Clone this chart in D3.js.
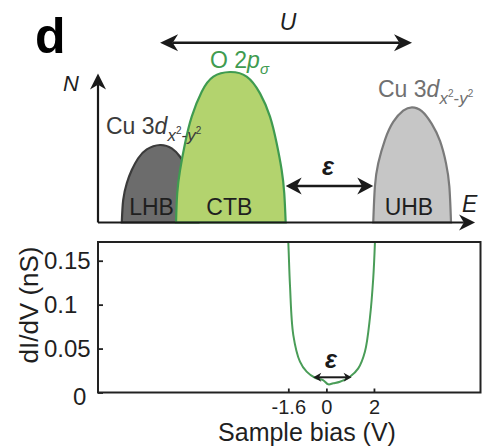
<!DOCTYPE html>
<html>
<head>
<meta charset="utf-8">
<script src="https://cdn.jsdelivr.net/npm/d3@7"></script>
<style>
  body { margin: 0; background: #fff; }
  text { font-family: "Liberation Sans", Arial, sans-serif; }
</style>
</head>
<body>
<div id="d3"></div>
<script>
// band outlines in the sketch: energy (V) and density of states (CTB peak = 1)
const lhbE = [-8.60, -8.54, -8.39, -8.18, -7.91, -7.55, -6.99, -6.50, -6.15, -5.80, -5.59, -5.45, -5.38];
const lhbN = [0, 0.150, 0.261, 0.349, 0.427, 0.486, 0.515, 0.493, 0.437, 0.349, 0.261, 0.150, 0];
const ctbE = [-6.32, -6.27, -6.15, -5.94, -5.66, -5.24, -4.75, -4.05, -3.35, -2.79, -2.37, -2.09, -1.88, -1.77, -1.71];
const ctbN = [0, 0.194, 0.349, 0.526, 0.703, 0.869, 0.969, 1.0, 0.969, 0.858, 0.703, 0.526, 0.349, 0.194, 0];
const uhbE = [1.97, 2.04, 2.18, 2.46, 2.81, 3.23, 3.60, 4.01, 4.43, 4.78, 5.03, 5.17, 5.24];
const uhbN = [0, 0.238, 0.393, 0.548, 0.668, 0.743, 0.765, 0.740, 0.655, 0.540, 0.393, 0.238, 0];
const bandNames = ["LHB", "CTB", "UHB"];
const bandLabelE = [-7.35, -4.08, 3.47];

// measured dI/dV spectrum
const biasV = [-1.66, -1.60, -1.53, -1.39, -1.11, -0.83, -0.48, -0.14, 0.08, 0.29, 0.57, 0.99, 1.34, 1.62, 1.83, 1.97, 2.04, 2.07];
const didv = [0.20, 0.171, 0.122, 0.0654, 0.0351, 0.0237, 0.0168, 0.0142, 0.0093, 0.0105, 0.0123, 0.0180, 0.0275, 0.0464, 0.0848, 0.130, 0.170, 0.20];
const gapV = [-0.55, 1.06];
const gapLevel = 0.0173;

const xTicks = [-1.6, 0, 2];
const yTicks = [0, 0.05, 0.1, 0.15];

const width = 482, height = 448;

const svg = d3
  .select("#d3")
  .append("svg")
  .attr("width", width)
  .attr("height", height);

// one energy axis shared by both panels
const x = d3.scaleLinear().domain([-9.6, 6.5]).range([98, 481]);
const yN = d3.scaleLinear().domain([0, 1]).range([222.5, 72]);
const y = d3.scaleLinear().domain([0, 0.1713]).range([392.5, 242]);

// double/single headed arrow with notched heads, tips at (x1,y1) (x2,y2)
function arrow(g, x1, y1, x2, y2, len, half, sw, both) {
  const a = Math.atan2(y2 - y1, x2 - x1);
  const notch = len * 0.7;
  const c = Math.cos(a), s = Math.sin(a);
  g.append("line")
    .attr("x1", both ? x1 + c * notch : x1)
    .attr("y1", both ? y1 + s * notch : y1)
    .attr("x2", x2 - c * notch)
    .attr("y2", y2 - s * notch)
    .attr("stroke", "#1a1a1a")
    .attr("stroke-width", sw);
  const head = `M0,0 L${-len},${-half} L${-notch},0 L${-len},${half} Z`;
  g.append("path")
    .attr("d", head)
    .attr("fill", "#1a1a1a")
    .attr("transform", `translate(${x2},${y2}) rotate(${(a * 180) / Math.PI})`);
  if (both)
    g.append("path")
      .attr("d", head)
      .attr("fill", "#1a1a1a")
      .attr("transform", `translate(${x1},${y1}) rotate(${(a * 180) / Math.PI + 180})`);
}

// ---------------- top panel: band sketch ----------------
const gTop = svg.append("g");

const dome = d3
  .line()
  .x((d) => x(d[0]))
  .y((d) => yN(d[1]))
  .curve(d3.curveNatural);

const bands = [
  { name: "LHB", pts: d3.zip(lhbE, lhbN), fill: "#6c6c6c", stroke: "#3b3b3b" },
  { name: "UHB", pts: d3.zip(uhbE, uhbN), fill: "#c6c6c6", stroke: "#7a7a7a" },
  { name: "CTB", pts: d3.zip(ctbE, ctbN), fill: "#b3d36e", stroke: "#3f9b50" },
];

gTop
  .selectAll("path.band")
  .data(bands)
  .join("path")
  .attr("class", "band")
  .attr("d", (d) => dome(d.pts) + "Z")
  .attr("fill", (d) => d.fill)
  .attr("stroke", (d) => d.stroke)
  .attr("stroke-width", 2.2);

gTop
  .selectAll("text.bandname")
  .data(bandNames)
  .join("text")
  .attr("class", "bandname")
  .attr("x", (d, i) => x(bandLabelE[i]))
  .attr("y", 214.5)
  .attr("text-anchor", "middle")
  .attr("font-size", 23)
  .attr("fill", "#1f1f1f")
  .text((d) => d);

// axes with arrows
arrow(gTop, 98, yN(0), 98, yN(0.99), 16, 8, 2.2, false);
arrow(gTop, 98, yN(0), x(6.25), yN(0), 16, 8, 2.2, false);

gTop.append("text").attr("x", 63).attr("y", 91).attr("font-size", 22)
  .attr("font-style", "italic").attr("fill", "#1f1f1f").text("N");
gTop.append("text").attr("x", 462).attr("y", 212).attr("font-size", 23)
  .attr("font-style", "italic").attr("fill", "#1f1f1f").text("E");

// U: LHB peak to UHB peak
const lhbPeak = lhbE[d3.maxIndex(lhbN)], uhbPeak = uhbE[d3.maxIndex(uhbN)];
arrow(gTop, x(lhbPeak), 42.7, x(uhbPeak), 42.7, 18, 8.5, 2.5, true);
gTop.append("text").attr("x", 288).attr("y", 30).attr("text-anchor", "middle")
  .attr("font-size", 23).attr("font-style", "italic").attr("fill", "#1f1f1f").text("U");

// charge-transfer gap
arrow(gTop, x(ctbE[ctbE.length - 1]), yN(0.243), x(uhbE[0]), yN(0.243), 16, 8.5, 2.5, true);
gTop.append("text").attr("x", 328).attr("y", 175).attr("text-anchor", "middle")
  .attr("font-size", 25).attr("font-weight", "bold").attr("font-style", "italic")
  .attr("fill", "#1a1a1a").text("ε");

// orbital labels
function orbital(g, x0, y0, color) {
  const t = g.append("text").attr("x", x0).attr("y", y0).attr("font-size", 23).attr("fill", color);
  t.append("tspan").text("Cu 3");
  t.append("tspan").attr("font-style", "italic").text("d");
  t.append("tspan").attr("font-style", "italic").attr("font-size", 17).attr("dy", 7).text("x");
  t.append("tspan").attr("font-size", 10).attr("dy", -7).text("2");
  t.append("tspan").attr("font-size", 17).attr("dy", 7).text("-");
  t.append("tspan").attr("font-style", "italic").attr("font-size", 17).text("y");
  t.append("tspan").attr("font-size", 10).attr("dy", -7).text("2");
}
orbital(gTop, 106, 133.5, "#3b3b3b");
orbital(gTop, 378, 96.7, "#707070");

const o2p = gTop.append("text").attr("x", 210).attr("y", 68).attr("font-size", 23).attr("fill", "#3f9b50");
o2p.append("tspan").text("O 2");
o2p.append("tspan").attr("font-style", "italic").text("p");
o2p.append("tspan").attr("font-style", "italic").attr("font-size", 15).attr("dy", 6).text("σ");

// panel letter
svg.append("text").attr("x", 35).attr("y", 53).attr("font-size", 50)
  .attr("font-weight", "bold").attr("fill", "#000").text("d");

// ---------------- bottom panel: dI/dV ----------------
const bot = svg.append("g");

bot.append("clipPath").attr("id", "frame")
  .append("rect").attr("x", 98).attr("y", 242).attr("width", 383).attr("height", 150.5);

bot.append("path")
  .datum(d3.zip(biasV, didv))
  .attr("clip-path", "url(#frame)")
  .attr("fill", "none")
  .attr("stroke", "#4a9d58")
  .attr("stroke-width", 2)
  .attr("d", d3.line().x((d) => x(d[0])).y((d) => y(d[1])).curve(d3.curveCatmullRom.alpha(0.5)));

const fmt = (d) => String(d); // plain hyphen minus, as in the figure

const xAxis = bot.append("g")
  .attr("transform", `translate(0,${y(0)})`)
  .call(d3.axisBottom(x).tickValues(xTicks).tickFormat(fmt).tickSizeInner(-4).tickSizeOuter(0).tickPadding(7));
xAxis.select(".domain").remove();
xAxis.selectAll("line").attr("stroke", "#222").attr("stroke-width", 1.8);
xAxis.selectAll("text").attr("font-size", 20).attr("fill", "#1f1f1f")
  .attr("font-family", "Liberation Sans, Arial, sans-serif");

const yAxis = bot.append("g")
  .attr("transform", `translate(${x.range()[0]},0)`)
  .call(d3.axisLeft(y).tickValues(yTicks).tickFormat(fmt).tickSizeInner(-5).tickSizeOuter(0));
yAxis.select(".domain").remove();
yAxis.selectAll("line").attr("stroke", "#222").attr("stroke-width", 1.8);
yAxis.selectAll("text")
  .attr("font-size", 24).attr("fill", "#1f1f1f")
  .attr("font-family", "Liberation Sans, Arial, sans-serif")
  .attr("text-anchor", "start")
  .attr("x", (d) => (d === 0 ? -25 : -54))
  .attr("dy", (d) => (d === 0 ? "0.5em" : "0.32em"));

bot.append("rect")
  .attr("x", 98).attr("y", 242).attr("width", 382.5).attr("height", 150.5)
  .attr("fill", "none").attr("stroke", "#222").attr("stroke-width", 2);

// small gap arrow on the spectrum
arrow(bot, x(gapV[0]), y(gapLevel), x(gapV[1]), y(gapLevel), 8, 4.5, 2, true);
bot.append("text").attr("x", 331).attr("y", 368).attr("text-anchor", "middle")
  .attr("font-size", 25).attr("font-weight", "bold").attr("font-style", "italic")
  .attr("fill", "#1a1a1a").text("ε");

bot.append("text").attr("x", 307).attr("y", 441).attr("text-anchor", "middle")
  .attr("font-size", 25).attr("fill", "#1f1f1f").text("Sample bias (V)");

bot.append("text")
  .attr("transform", "translate(38,305) rotate(-90)")
  .attr("text-anchor", "middle")
  .attr("font-size", 26).attr("fill", "#1f1f1f").text("dI/dV (nS)");
</script>
</body>
</html>
